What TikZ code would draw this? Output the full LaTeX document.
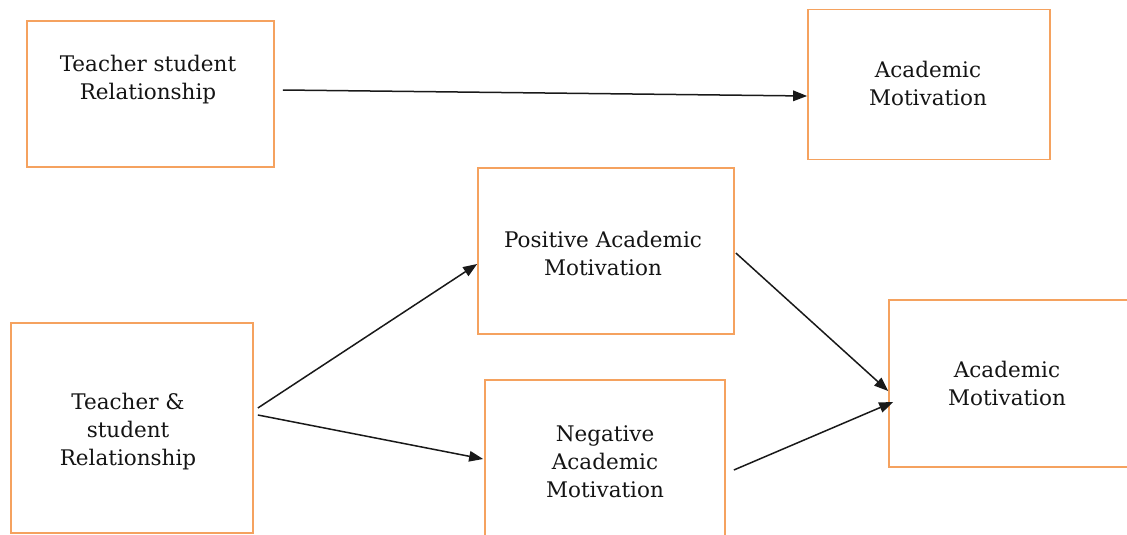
\documentclass[tikz,border=0pt]{standalone}
\usepackage{fontspec}
\setmainfont{DejaVu Serif}
\usetikzlibrary{arrows.meta}
\definecolor{boxorange}{RGB}{245,162,95}
\begin{document}
\begin{tikzpicture}[x=1pt,y=-1pt,
  box/.style={draw=boxorange,line width=1.7pt,rectangle,inner sep=0pt},
  lbl/.style={align=center,font=\fontsize{21.5}{28}\selectfont,text=black!92,inner sep=0pt},
  arr/.style={draw=black!90,line width=1.5pt,-{Triangle[length=14pt,width=10.5pt]}}]
\useasboundingbox (0,0) rectangle (1127,535);
\begin{scope}
\clip (0,0) rectangle (1127,535);
\node[box,minimum width=247pt,minimum height=146pt] (tsr) at (150.5,94) {};
\node[box,minimum width=242pt,minimum height=150pt] (amt) at (929,84.5) {};
\node[box,minimum width=256pt,minimum height=166pt] (pam) at (606,251) {};
\node[box,minimum width=242pt,minimum height=210pt] (tsr2) at (132,428) {};
\node[box,minimum width=240pt,minimum height=180pt] (nam) at (605,470) {};
\node[box,minimum width=260pt,minimum height=167pt] (amr) at (1019,383.5) {};
\end{scope}
\node[lbl] (tsrt) at (148,79.5) {Teacher student\\Relationship};
\node[lbl] (amtt) at (928,83.5) {Academic\\Motivation};
\node[lbl] (pamt) at (603,253) {Positive Academic\\Motivation};
\node[lbl] (tsr2t) at (128,431.5) {Teacher \&\\student\\Relationship};
\node[lbl] (namt) at (605,461.5) {Negative\\Academic\\Motivation};
\node[lbl] (amrt) at (1007,383.5) {Academic\\Motivation};
\draw[arr] ([xshift=8pt,yshift=4pt]tsr.east) -- ([yshift=-11.5pt]amt.west);
\draw[arr] ([xshift=4pt,yshift=20pt]tsr2.east) -- ([yshift=-13pt]pam.west);
\draw[arr] ([xshift=4pt,yshift=13pt]tsr2.east) -- ([xshift=-1pt,yshift=11pt]nam.west);
\draw[arr] ([xshift=1pt,yshift=-2pt]pam.east) -- ([yshift=-7.5pt]amr.west);
\draw[arr] ([xshift=8pt]nam.east) -- ([xshift=5pt,yshift=-18.5pt]amr.west);
\end{tikzpicture}
\end{document}
